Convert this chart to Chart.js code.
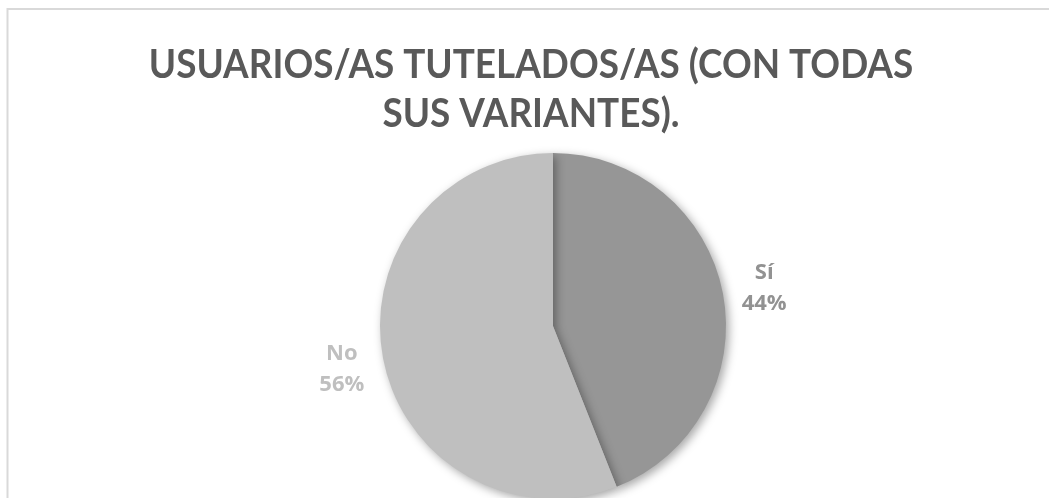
<!DOCTYPE html>
<html>
<head>
<meta charset="utf-8">
<script src="https://cdn.jsdelivr.net/npm/chart.js@4/dist/chart.umd.min.js"></script>
<style>
html,body{margin:0;padding:0;background:#fff;overflow:hidden;width:1049px;height:498px;}
#wrap{position:relative;width:1049px;height:540px;}
</style>
</head>
<body>
<div id="wrap"><canvas id="c" width="1049" height="540"></canvas></div>
<script>
const titleLines = ['USUARIOS/AS TUTELADOS/AS (CON TODAS', 'SUS VARIANTES).'];
const categories = ['Sí', 'No'];
const values = [44, 56];
const sliceColors = ['#969696', '#bfbfbf'];
const labelColors = ['#929292', '#bfbfbf'];

const borderPlugin = {
  id: 'frame',
  beforeDraw(chart) {
    const ctx = chart.ctx;
    ctx.save();
    ctx.fillStyle = '#fff';
    ctx.fillRect(0, 0, chart.width, chart.height);
    ctx.strokeStyle = '#d9d9d9';
    ctx.lineWidth = 2;
    ctx.beginPath();
    ctx.moveTo(7.5, chart.height);
    ctx.lineTo(7.5, 9);
    ctx.lineTo(chart.width, 9);
    ctx.stroke();
    ctx.restore();
  }
};

const titlePlugin = {
  id: 'narrowTitle',
  afterDraw(chart) {
    const ctx = chart.ctx;
    ctx.save();
    ctx.font = 'bold 40px Lato, "Open Sans", sans-serif';
    ctx.fillStyle = '#595959';
    ctx.textAlign = 'center';
    ctx.textBaseline = 'alphabetic';
    const cx = 531, sx = 0.922;
    titleLines.forEach((line, i) => {
      ctx.save();
      ctx.translate(cx, 78 + i * 49);
      ctx.scale(sx, 1);
      ctx.fillText(line, 0, 0);
      ctx.restore();
    });
    ctx.restore();
  }
};

const shadowPlugin = {
  id: 'pieShadow',
  beforeDatasetsDraw(chart) {
    const ctx = chart.ctx;
    ctx.save();
    ctx.shadowColor = 'rgba(0,0,0,0.35)';
    ctx.shadowBlur = 10;
    ctx.shadowOffsetX = 3;
    ctx.shadowOffsetY = 3;
  },
  afterDatasetsDraw(chart) {
    chart.ctx.restore();
  }
};

const labelPlugin = {
  id: 'outLabels',
  afterDatasetsDraw(chart) {
    const ctx = chart.ctx;
    const meta = chart.getDatasetMeta(0);
    const total = values.reduce((a, b) => a + b, 0);
    ctx.save();
    ctx.font = 'bold 22px "Open Sans", sans-serif';
    ctx.textAlign = 'center';
    ctx.textBaseline = 'middle';
    meta.data.forEach((arc, i) => {
      const mid = (arc.startAngle + arc.endAngle) / 2;
      const d = arc.outerRadius + 42;
      const x = arc.x + Math.cos(mid) * d;
      const y = arc.y + Math.sin(mid) * d + 2;
      ctx.fillStyle = labelColors[i];
      ctx.fillText(categories[i], x, y - 15);
      ctx.fillText(Math.round(values[i] / total * 100) + '%', x, y + 16);
    });
    ctx.restore();
  }
};

new Chart(document.getElementById('c'), {
  type: 'pie',
  data: {
    labels: categories,
    datasets: [{
      data: values,
      backgroundColor: sliceColors,
      borderWidth: 0,
      radius: 173
    }]
  },
  options: {
    responsive: false,
    animation: false,
    layout: { padding: { left: 57, right: 0, top: 122, bottom: 10 } },
    plugins: {
      legend: { display: false },
      tooltip: { enabled: false },
      title: { display: false }
    }
  },
  plugins: [borderPlugin, shadowPlugin, labelPlugin, titlePlugin]
});
</script>
</body>
</html>
